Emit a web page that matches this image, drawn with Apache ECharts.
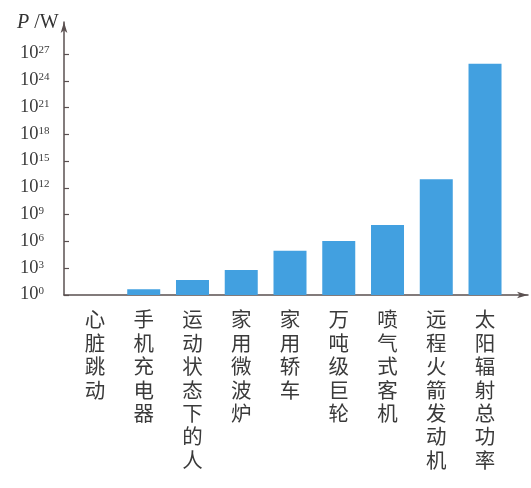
<!DOCTYPE html>
<html>
<head>
<meta charset="utf-8">
<script src="https://cdn.jsdelivr.net/npm/echarts@6/dist/echarts.min.js"></script>
<style>html,body{margin:0;padding:0;background:#fff}#c{width:531px;height:488px}</style>
</head>
<body>
<div id="c"></div>
<script>
// Data
const categories = ['心脏跳动','手机充电器','运动状态下的人','家用微波炉','家用轿车','万吨级巨轮','喷气式客机','远程火箭发动机','太阳辐射总功率'];
const powerW = [1, 4.5, 48, 630, 9e4, 1.1e6, 7e7, 9e12, 8e25];
const exponentTicks = [0,3,6,9,12,15,18,21,24,27];

const chart = echarts.init(document.getElementById('c'));
const axisColor = '#5a5050';
const serif = 'Liberation Serif';
chart.setOption({
  animation: false,
  backgroundColor: '#fff',
  title: {
    text: '{i|P}{n| /W}',
    left: 12, top: 8,
    textStyle: {
      fontWeight: 'normal',
      rich: {
        i: {fontFamily: serif, fontStyle: 'italic', fontWeight: 'normal', fontSize: 20, color: '#333'},
        n: {fontFamily: serif, fontWeight: 'normal', fontSize: 20, color: '#333'}
      }
    }
  },
  grid: [
    {left: 70.6, right: 21.6, top: 54, bottom: 193},
    {left: 64, right: 3, top: 22, bottom: 193}
  ],
  xAxis: [
    {
      type: 'category', gridIndex: 0, data: categories,
      axisLine: {show: false}, axisTick: {show: false},
      axisLabel: {
        interval: 0, margin: 13, verticalAlign: 'top',
        fontFamily: 'Noto Sans CJK SC', fontSize: 20.5, lineHeight: 23.4, color: '#3a3a3a',
        formatter: v => v.split('').join('\n')
      }
    },
    {
      type: 'value', gridIndex: 1, min: 0, max: 1,
      axisLine: {show: true, lineStyle: {color: axisColor, width: 1.5}, symbol: ['none','arrow'], symbolSize: [5, 11]},
      axisTick: {show: false}, axisLabel: {show: false}, splitLine: {show: false}
    }
  ],
  yAxis: [
    {
      type: 'value', gridIndex: 0, min: exponentTicks[0], max: exponentTicks[exponentTicks.length-1], interval: 3,
      offset: 6.6,
      axisLine: {show: false},
      axisTick: {show: true, inside: true, length: 5, lineStyle: {color: axisColor, width: 1.2}},
      splitLine: {show: false},
      axisLabel: {
        align: 'left', margin: 44, color: '#333',
        formatter: v => '{b|10}{s|' + v + '}',
        rich: {
          b: {fontFamily: serif, fontSize: 18.5, color: '#3a3a3a', verticalAlign: 'bottom', lineHeight: 18},
          s: {fontFamily: serif, fontSize: 11, color: '#3a3a3a', verticalAlign: 'top', lineHeight: 18, padding: [0,0,6,0]}
        }
      }
    },
    {
      type: 'value', gridIndex: 1, min: 0, max: 1,
      axisLine: {show: true, lineStyle: {color: axisColor, width: 1.5}, symbol: ['none','arrow'], symbolSize: [5, 11]},
      axisTick: {show: false}, axisLabel: {show: false}, splitLine: {show: false}
    }
  ],
  series: [{
    type: 'bar', xAxisIndex: 0, yAxisIndex: 0,
    data: powerW.map(p => Math.log10(p)),
    barWidth: 33,
    itemStyle: {color: '#42a0e0'}
  }]
});
</script>
</body>
</html>
